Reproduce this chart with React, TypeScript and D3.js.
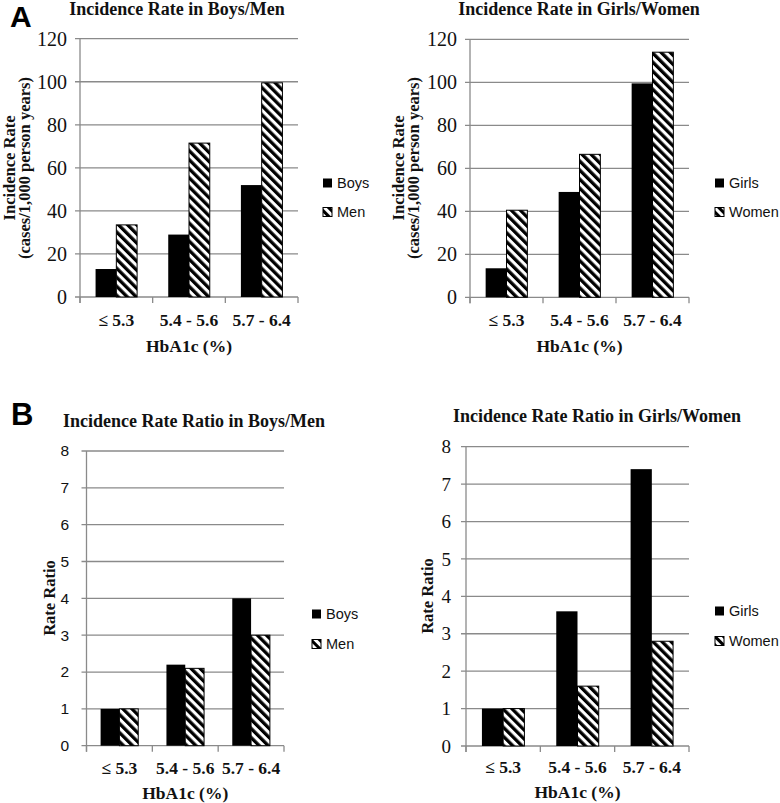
import React from "react";
import * as d3 from "d3";

const categories = ["≤ 5.3", "5.4 - 5.6", "5.7 - 6.4"];
const boysRate = [13, 29, 52];
const menRate = [33.5, 71.5, 99.5];
const girlsRate = [13.5, 49, 99.5];
const womenRate = [40.5, 66.5, 114];
const boysRatio = [1, 2.2, 4];
const menRatio = [1, 2.1, 3];
const girlsRatio = [1, 3.6, 7.4];
const womenRatio = [1, 1.6, 2.8];
const rateTicks = [0, 20, 40, 60, 80, 100, 120];
const ratioTicks = [0, 1, 2, 3, 4, 5, 6, 7, 8];

const SERIF = "'Liberation Serif', 'Times New Roman', serif";
const SANS = "'Liberation Sans', Arial, sans-serif";
const GRID = "#8a8a8a";

type PanelProps = {
  left: number; right: number; top: number; bottom: number;
  yMax: number; ticks: number[];
  tickFont: string; tickSize: number; tickLabelX: number;
  title: string; titleX: number; titleY: number;
  yTitles: string[]; yTitleXs: number[]; yTitleY: number;
  xLabelY: number; xTitleY: number;
  seriesA: number[]; seriesB: number[];
  nameA: string; nameB: string;
  legendX: number; legendYA: number; legendYB: number;
};

function Panel(p: PanelProps) {
  const x = d3.scaleBand<string>().domain(categories).range([p.left, p.right]).padding(0);
  const sub = d3.scaleBand<string>().domain(["a", "b"]).range([0, x.bandwidth()]).paddingInner(0).paddingOuter(0.75);
  const y = d3.scaleLinear().domain([0, p.yMax]).range([p.bottom, p.top]);
  const bounds = [...categories.map((c) => x(c) as number), p.right];
  return (
    <g>
      {p.ticks.map((t) => (
        <g key={t}>
          <line x1={p.left - 5} x2={p.right} y1={y(t)} y2={y(t)} stroke={GRID} strokeWidth={1.3} />
          <text x={p.tickLabelX} y={y(t)} dy="0.35em" textAnchor="end" fontFamily={p.tickFont} fontSize={p.tickSize} fill="#111">{t}</text>
        </g>
      ))}
      <line x1={p.left} x2={p.left} y1={p.top} y2={p.bottom + 6} stroke={GRID} strokeWidth={1.3} />
      {bounds.map((b, i) => (
        <line key={i} x1={b} x2={b} y1={p.bottom} y2={p.bottom + 6} stroke={GRID} strokeWidth={1.3} />
      ))}
      {categories.map((c, i) => {
        const x0 = x(c) as number;
        const xa = x0 + (sub("a") as number);
        const xb = x0 + (sub("b") as number);
        const w = sub.bandwidth();
        return (
          <g key={c}>
            <rect x={xa} y={y(p.seriesA[i])} width={w} height={p.bottom - y(p.seriesA[i])} fill="#000" />
            <rect x={xb} y={y(p.seriesB[i])} width={w} height={p.bottom - y(p.seriesB[i])} fill="url(#hatch)" stroke="#000" strokeWidth={1} />
            <text x={x0 + x.bandwidth() / 2} y={p.xLabelY} textAnchor="middle" fontFamily={SERIF} fontWeight="bold" fontSize={17.5} fill="#111">{c}</text>
          </g>
        );
      })}
      <text x={(p.left + p.right) / 2} y={p.xTitleY} textAnchor="middle" fontFamily={SERIF} fontWeight="bold" fontSize={17.5} fill="#111">HbA1c (%)</text>
      <text x={p.titleX} y={p.titleY} textAnchor="middle" fontFamily={SERIF} fontWeight="bold" fontSize={18} fill="#111">{p.title}</text>
      {p.yTitles.map((t, i) => (
        <text key={i} transform={`translate(${p.yTitleXs[i]},${p.yTitleY}) rotate(-90)`} textAnchor="middle" fontFamily={SERIF} fontWeight="bold" fontSize={16.5} fill="#111">{t}</text>
      ))}
      <rect x={p.legendX} y={p.legendYA - 4.5} width={9} height={9} fill="#000" />
      <text x={p.legendX + 14} y={p.legendYA} dy="0.35em" fontFamily={SANS} fontSize={14.5} fill="#111">{p.nameA}</text>
      <rect x={p.legendX} y={p.legendYB - 4.5} width={9} height={9} fill="url(#hatchL)" stroke="#000" strokeWidth={1} />
      <text x={p.legendX + 14} y={p.legendYB} dy="0.35em" fontFamily={SANS} fontSize={14.5} fill="#111">{p.nameB}</text>
    </g>
  );
}

export default function App() {
  return (
    <svg width={780} height={803} style={{ position: "absolute", left: 0, top: 0, background: "#fff" }}>
      <defs>
        <pattern id="hatch" patternUnits="userSpaceOnUse" width={6.4} height={6.4} patternTransform="rotate(-45)">
          <rect width={6.4} height={6.4} fill="#fff" />
          <rect width={3.3} height={6.4} fill="#000" />
        </pattern>
        <pattern id="hatchL" patternUnits="userSpaceOnUse" width={6} height={6} patternTransform="rotate(-45)">
          <rect width={6} height={6} fill="#fff" />
          <rect width={3} height={6} fill="#000" />
        </pattern>
      </defs>
      <rect width={780} height={803} fill="#fff" />
      <text x={10} y={27} fontFamily={SANS} fontWeight="bold" fontSize={30} fill="#000">A</text>
      <text x={11} y={425} fontFamily={SANS} fontWeight="bold" fontSize={31} fill="#000">B</text>
      <Panel left={80} right={298} top={38.7} bottom={297} yMax={120} ticks={rateTicks}
        tickFont={SERIF} tickSize={20} tickLabelX={67}
        title="Incidence Rate in Boys/Men" titleX={177} titleY={15}
        yTitles={["Incidence Rate", "(cases/1,000 person years)"]} yTitleXs={[15, 30]} yTitleY={168}
        xLabelY={326} xTitleY={352}
        seriesA={boysRate} seriesB={menRate} nameA="Boys" nameB="Men"
        legendX={323} legendYA={183} legendYB={212} />
      <Panel left={470} right={689} top={39.3} bottom={297.3} yMax={120} ticks={rateTicks}
        tickFont={SERIF} tickSize={20} tickLabelX={457}
        title="Incidence Rate in Girls/Women" titleX={579} titleY={15}
        yTitles={["Incidence Rate", "(cases/1,000 person years)"]} yTitleXs={[404, 419]} yTitleY={168}
        xLabelY={326} xTitleY={352}
        seriesA={girlsRate} seriesB={womenRate} nameA="Girls" nameB="Women"
        legendX={715} legendYA={183} legendYB={212} />
      <Panel left={86.5} right={284} top={451} bottom={745.7} yMax={8} ticks={ratioTicks}
        tickFont={SANS} tickSize={15.5} tickLabelX={69}
        title="Incidence Rate Ratio in Boys/Men" titleX={194} titleY={427}
        yTitles={["Rate Ratio"]} yTitleXs={[55]} yTitleY={598}
        xLabelY={774} xTitleY={799}
        seriesA={boysRatio} seriesB={menRatio} nameA="Boys" nameB="Men"
        legendX={312} legendYA={614} legendYB={644} />
      <Panel left={466} right={689} top={446.7} bottom={746} yMax={8} ticks={ratioTicks}
        tickFont={SERIF} tickSize={19} tickLabelX={451}
        title="Incidence Rate Ratio in Girls/Women" titleX={597} titleY={422}
        yTitles={["Rate Ratio"]} yTitleXs={[433]} yTitleY={596}
        xLabelY={773} xTitleY={798}
        seriesA={girlsRatio} seriesB={womenRatio} nameA="Girls" nameB="Women"
        legendX={715} legendYA={611} legendYB={641} />
    </svg>
  );
}
